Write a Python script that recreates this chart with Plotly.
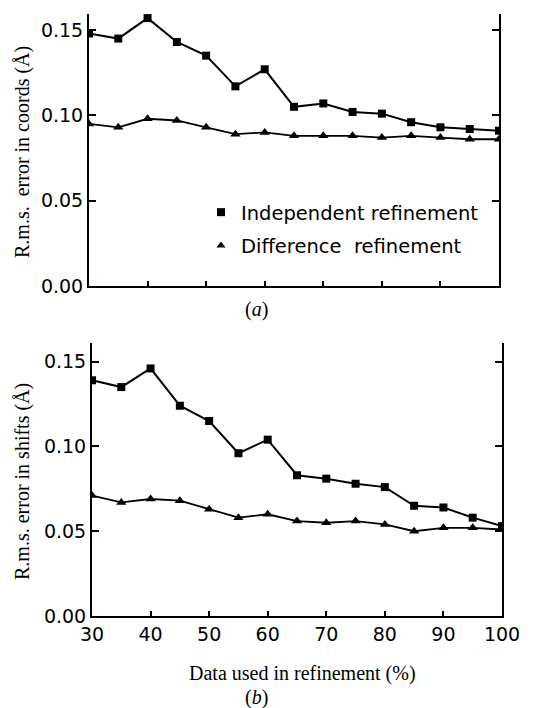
import plotly.graph_objects as go

# ---- data ----
pct = [30, 35, 40, 45, 50, 55, 60, 65, 70, 75, 80, 85, 90, 95, 100]

coords_independent = [0.148, 0.145, 0.157, 0.143, 0.135, 0.117, 0.127, 0.105, 0.107,
                      0.102, 0.101, 0.096, 0.093, 0.092, 0.091]
coords_difference = [0.095, 0.093, 0.098, 0.097, 0.093, 0.089, 0.090, 0.088, 0.088,
                     0.088, 0.087, 0.088, 0.087, 0.086, 0.086]

shifts_independent = [0.139, 0.135, 0.146, 0.124, 0.115, 0.096, 0.104, 0.083, 0.081,
                      0.078, 0.076, 0.065, 0.064, 0.058, 0.053]
shifts_difference = [0.071, 0.067, 0.069, 0.068, 0.063, 0.058, 0.060, 0.056, 0.055,
                     0.056, 0.054, 0.050, 0.052, 0.052, 0.051]

x_ticks = [30, 40, 50, 60, 70, 80, 90, 100]
y_ticks = [0.00, 0.05, 0.10, 0.15]

series_names = ["Independent refinement", "Difference  refinement"]
y_title_a = "R.m.s.  error in coords (Å)"
y_title_b = "R.m.s. error in shifts (Å)"
x_title = "Data used in refinement (%)"

# page body has an 8px margin; figure is sized/positioned to compensate
OFF = 8
W, H = 530, 700


def px(x):
    return (x - OFF) / W


def py(y):
    return (H - (y - OFF)) / H


TICKFONT = dict(family="DejaVu Sans", size=19, color="black")
SERIF = "Liberation Serif, Times New Roman, serif"

fig = go.Figure()


def add_panel(xa, ya, indep, diff):
    fig.add_trace(go.Scatter(x=pct, y=indep, mode="lines+markers", xaxis=xa, yaxis=ya,
                             line=dict(color="black", width=2),
                             marker=dict(symbol="square", size=8, color="black"),
                             showlegend=False))
    fig.add_trace(go.Scatter(x=pct, y=diff, mode="lines+markers", xaxis=xa, yaxis=ya,
                             line=dict(color="black", width=1.8),
                             marker=dict(symbol="triangle-up", size=9, color="black"),
                             showlegend=False))


add_panel("x", "y", coords_independent, coords_difference)
add_panel("x2", "y2", shifts_independent, shifts_difference)

# legend-only entries (markers only)
fig.add_trace(go.Scatter(x=[None], y=[None], mode="markers", name=series_names[0],
                         marker=dict(symbol="square", size=8, color="black"),
                         legendgroup="a", xaxis="x", yaxis="y"))
fig.add_trace(go.Scatter(x=[None], y=[None], mode="markers", name=series_names[1],
                         marker=dict(symbol="triangle-up", size=8, color="black"),
                         legendgroup="b", xaxis="x", yaxis="y"))

xcommon = dict(range=[30, 100], tickvals=x_ticks, ticks="inside", ticklen=5,
               tickwidth=1.5, tickcolor="black", showline=True, linewidth=2,
               linecolor="black", showgrid=False, zeroline=False, mirror=False,
               tickfont=TICKFONT, automargin=False)
ycommon = dict(tickvals=y_ticks, tickformat=".2f", ticks="inside", ticklen=7,
               tickwidth=1.5, tickcolor="black", showline=True, linewidth=2,
               linecolor="black", showgrid=False, zeroline=False, mirror="ticks",
               tickfont=TICKFONT, automargin=False)

fig.update_layout(
    width=W, height=H, autosize=False,
    margin=dict(l=0, r=0, t=0, b=0, pad=0, autoexpand=False),
    paper_bgcolor="white", plot_bgcolor="white",
    xaxis=dict(xcommon, domain=[px(89), px(499)], anchor="y", showticklabels=False),
    yaxis=dict(ycommon, domain=[py(286), py(14)], range=[0, 0.1594], anchor="x"),
    xaxis2=dict(xcommon, domain=[px(92), px(502)], anchor="y2", showticklabels=True),
    yaxis2=dict(ycommon, domain=[py(616), py(343)], range=[0, 0.161], anchor="x2"),
    legend=dict(x=px(201), xanchor="left", y=py(193), yanchor="top",
                bgcolor="rgba(0,0,0,0)", tracegroupgap=5,
                font=dict(family="DejaVu Sans", size=19.5, color="black")),
    showlegend=True,
)

ann = [
    dict(text=y_title_a, x=px(22), y=py(152), textangle=-90),
    dict(text=y_title_b, x=px(22), y=py(482), textangle=-90),
    dict(text=x_title, x=px(302), y=py(673), textangle=0),
    dict(text="(<i>a</i>)", x=px(256), y=py(310), textangle=0),
    dict(text="(<i>b</i>)", x=px(256), y=py(697), textangle=0),
]
for a in ann:
    fig.add_annotation(xref="paper", yref="paper", showarrow=False,
                       xanchor="center", yanchor="middle",
                       font=dict(family=SERIF, size=20, color="black"), **a)

fig.write_html("out.html")
